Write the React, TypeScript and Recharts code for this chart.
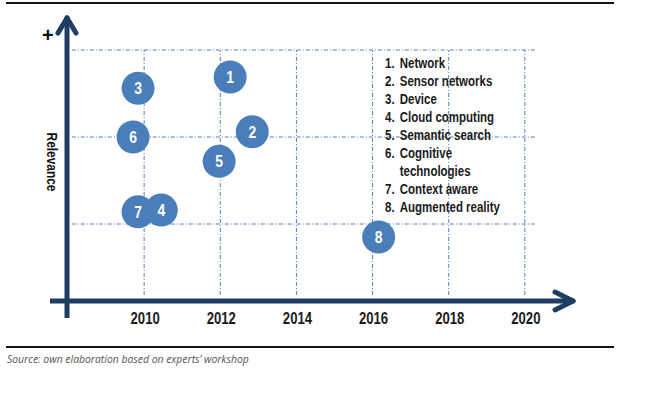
import React from 'react';
import { ScatterChart, Scatter, XAxis, YAxis, ReferenceLine } from 'recharts';

// technologies, in legend order
const ids = [1, 2, 3, 4, 5, 6, 7, 8];
const labels = [
  'Network',
  'Sensor networks',
  'Device',
  'Cloud computing',
  'Semantic search',
  'Cognitive technologies',
  'Context aware',
  'Augmented reality',
];
const years = [2012.26, 2012.84, 2009.84, 2010.45, 2011.97, 2009.71, 2009.84, 2016.16];
const relevance = [2.69, 2.06, 2.56, 1.16, 1.72, 2.0, 1.14, 0.85];

const yearTicks = [2010, 2012, 2014, 2016, 2018, 2020];
const levels = [1, 2, 3];

const data = ids.map((id, i) => ({ id, label: labels[i], year: years[i], rel: relevance[i] }));
// draw 7 before 4 so 4 sits on top
const drawOrder = [0, 1, 2, 4, 5, 6, 3, 7].map((i) => data[i]);

// no Arial Narrow here, so squeeze Liberation Sans Bold instead
const FONT = "'Liberation Sans', Arial, sans-serif";
const SQUEEZE = 0.82;
const AXIS = '#1f3d63';
const BUBBLE = '#4a7ebb';
const GRID = '#5a7db5';

const Bubble = (props: any) => {
  const { cx, cy, payload } = props;
  return (
    <g>
      <circle cx={cx} cy={cy} r={16.5} fill={BUBBLE} />
      <text
        transform={`translate(${cx},${cy}) scale(${SQUEEZE},1)`}
        dy="0.36em"
        textAnchor="middle"
        fill="#fff"
        fontFamily={FONT}
        fontWeight="bold"
        fontSize={17}
      >
        {payload.id}
      </text>
    </g>
  );
};

const YearTick = (props: any) => {
  const { x, y, payload } = props;
  return (
    <text
      transform={`translate(${x + 1},${y}) scale(${SQUEEZE},1)`}
      dy="0.71em"
      textAnchor="middle"
      fill="#1a1a1a"
      fontFamily={FONT}
      fontWeight="bold"
      fontSize={16}
    >
      {payload.value}
    </text>
  );
};

const axisLine = { stroke: AXIS, strokeWidth: 5, ifOverflow: 'visible' as const };
const gridLine = { stroke: GRID, strokeWidth: 1, strokeDasharray: '4 2 1 2', ifOverflow: 'visible' as const };

export default function App() {
  return (
    <div style={{ position: 'absolute', left: 0, top: 0, width: 647, height: 394, background: '#fff' }}>
      <div style={{ position: 'absolute', left: 6, top: 2, width: 608, height: 1.5, background: '#111' }} />
      <div style={{ position: 'absolute', left: 6, top: 346, width: 608, height: 1.5, background: '#111' }} />

      <ScatterChart width={647} height={394} margin={{ top: 6.5, right: 46, bottom: 61.7, left: 68 }}>
        <XAxis
          type="number"
          dataKey="year"
          domain={[2008, 2022]}
          ticks={yearTicks}
          axisLine={false}
          tickLine={false}
          tickSize={0}
          tickMargin={10}
          height={30}
          tick={<YearTick />}
        />
        <YAxis type="number" dataKey="rel" domain={[0.1, 3.5]} hide />

        {yearTicks.map((t) => (
          <ReferenceLine key={'v' + t} {...gridLine} segment={[{ x: t, y: 0.184 }, { x: t, y: 3 }]} />
        ))}
        {levels.map((l) => (
          <ReferenceLine key={'h' + l} {...gridLine} segment={[{ x: 2008.1, y: l }, { x: 2020.27, y: l }]} />
        ))}

        {/* axes with arrow heads */}
        <ReferenceLine {...axisLine} segment={[{ x: 2007.974, y: -0.08 }, { x: 2007.974, y: 3.33 }]} />
        <ReferenceLine {...axisLine} strokeLinecap="round" segment={[{ x: 2007.737, y: 3.195 }, { x: 2007.974, y: 3.368 }]} />
        <ReferenceLine {...axisLine} strokeLinecap="round" segment={[{ x: 2008.21, y: 3.195 }, { x: 2007.974, y: 3.368 }]} />
        <ReferenceLine {...axisLine} segment={[{ x: 2007.527, y: 0.115 }, { x: 2021.2, y: 0.115 }]} />
        <ReferenceLine {...axisLine} strokeLinecap="round" segment={[{ x: 2020.792, y: 0.218 }, { x: 2021.265, y: 0.115 }]} />
        <ReferenceLine {...axisLine} strokeLinecap="round" segment={[{ x: 2020.792, y: 0.0115 }, { x: 2021.265, y: 0.115 }]} />

        <Scatter data={drawOrder} shape={<Bubble />} isAnimationActive={false} />
      </ScatterChart>

      <div
        style={{
          position: 'absolute',
          left: 42,
          top: 24,
          fontFamily: FONT,
          fontWeight: 'bold',
          fontSize: 20,
          color: '#111',
        }}
      >
        +
      </div>
      <div
        style={{
          position: 'absolute',
          left: 52,
          top: 162,
          transform: `translate(-50%, -50%) rotate(90deg) scaleX(${SQUEEZE})`,
          fontFamily: FONT,
          fontWeight: 'bold',
          fontSize: 14.5,
          color: '#111',
          whiteSpace: 'nowrap',
        }}
      >
        Relevance
      </div>

      <div
        style={{
          position: 'absolute',
          left: 385,
          top: 54,
          width: 150,
          transform: `scaleX(${SQUEEZE})`,
          transformOrigin: 'left top',
          fontFamily: FONT,
          fontWeight: 'bold',
          fontSize: 14,
          lineHeight: '18px',
          color: '#1a1a1a',
        }}
      >
        {data.map((d) => (
          <div key={d.id} style={{ display: 'flex' }}>
            <span style={{ width: 18, flex: 'none' }}>{d.id}.</span>
            <span>{d.label}</span>
          </div>
        ))}
      </div>

      <div
        style={{
          position: 'absolute',
          left: 7,
          top: 352,
          fontFamily: "'Open Sans', sans-serif",
          fontStyle: 'italic',
          fontSize: 10.4,
          color: '#555',
        }}
      >
        Source: own elaboration based on experts’ workshop
      </div>
    </div>
  );
}
